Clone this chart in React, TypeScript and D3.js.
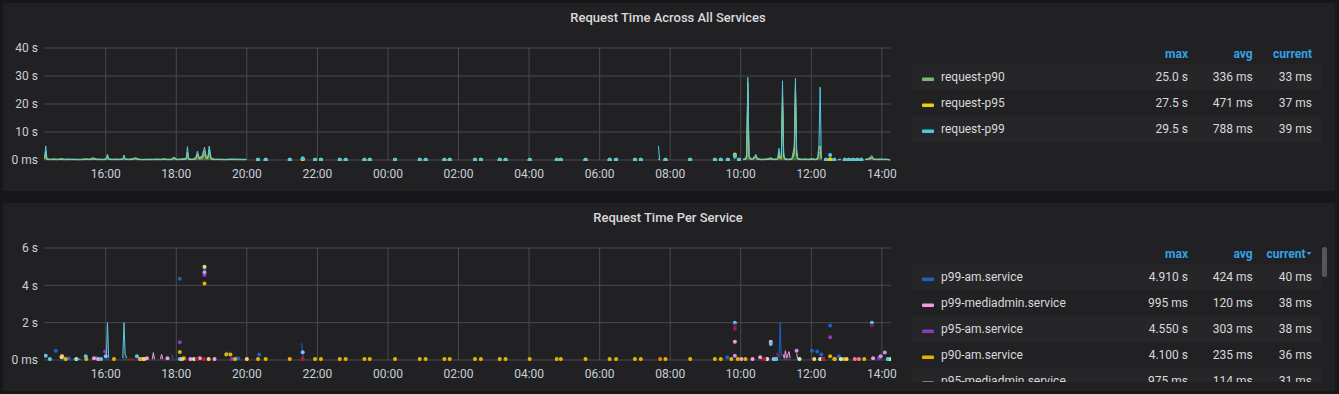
import React from "react";
import * as d3 from "d3";

type Pt = [string, number];
type P = { t: Date; v: number };

const W = 1339;
const H = 394;

// time axis (24h window, 14:15 -> 14:15 next day)
const xTickLabels = ["16:00", "18:00", "20:00", "22:00", "00:00", "02:00", "04:00", "06:00", "08:00", "10:00", "12:00", "14:00"];

// ---------- top panel: Request Time Across All Services ----------
const topTimes = [
  "14:16", "14:18", "14:20", "14:26", "14:32", "14:38", "14:44", "14:50", "14:56", "15:02",
  "15:08", "15:14", "15:20", "15:26", "15:32", "15:38", "15:44", "15:50", "15:56", "16:01",
  "16:03", "16:05", "16:11", "16:17", "16:23", "16:29", "16:31", "16:33", "16:39", "16:45",
  "16:51", "16:57", "17:03", "17:09", "17:15", "17:21", "17:27", "17:33", "17:39", "17:45", "17:51",
  "17:56", "18:01", "18:07", "18:13", "18:17", "18:19", "18:21", "18:27", "18:33", "18:36",
  "18:39", "18:44", "18:48", "18:51", "18:54", "18:56", "18:59", "19:05", "19:11", "19:17",
  "19:23", "19:29", "19:35", "19:41", "19:47", "19:53", "19:59",
  "20:19", "20:32", "21:13", "21:35", "21:56", "22:06", "22:38", "22:48", "23:20", "23:29",
  "00:12", "00:54", "01:04", "01:36", "01:45", "02:28", "02:38", "03:10", "03:20", "04:01",
  "04:47", "04:54", "05:36", "06:17", "06:28", "07:00", "07:10", "07:40", "07:42", "07:52",
  "08:34", "09:16", "09:26", "09:38", "09:50", "09:57",
  "10:04", "10:08", "10:10", "10:12", "10:14", "10:16", "10:20", "10:24", "10:26", "10:28",
  "10:34", "10:40", "10:46", "10:51", "10:56", "11:01", "11:03", "11:05", "11:07", "11:09",
  "11:11", "11:13", "11:15", "11:21", "11:27", "11:31", "11:33", "11:35", "11:37", "11:43",
  "11:49", "11:55", "12:01", "12:07", "12:11", "12:13", "12:15", "12:17",
  "12:25", "12:32", "12:39", "12:46", "12:50", "12:57", "13:04", "13:11", "13:18", "13:25",
  "13:32", "13:37", "13:43", "13:46", "13:51", "13:57", "14:03", "14:09", "14:14",
];
const p90Values = [
  0.3, 2.0, 0.2, 0.1, 0.15, 0.1, 0.2, 0.1, 0.1, 0.15,
  0.1, 0.1, 0.1, 0.2, 0.1, 0.3, 0.15, 0.1, 0.1, 0.2,
  1.0, 0.2, 0.1, 0.15, 0.1, 0.2, 0.6, 0.2, 0.1, 0.2,
  0.4, 0.1, 0.1, 0.1, 0.1, 0.1, 0.15, 0.1, 0.2, 0.1, 0.1,
  0.5, 0.1, 0.15, 0.2, 0.3, 1.5, 0.2, 0.1, 0.3, 1.5,
  0.3, 0.5, 2.0, 0.4, 0.6, 2.5, 0.3, 0.1, 0.15, 0.1,
  0.1, 0.1, 0.15, 0.1, 0.1, 0.1, 0.1,
  0.05, 0.05, 0.05, 0.2, 0.05, 0.05, 0.05, 0.05, 0.05, 0.05,
  0.05, 0.05, 0.05, 0.05, 0.05, 0.05, 0.05, 0.05, 0.05, 0.05,
  0.05, 0.05, 0.05, 0.05, 0.05, 0.05, 0.05, 0.2, 0.05, 0.05,
  0.05, 0.05, 0.05, 0.05, 1.2, 0.05,
  0.1, 0.2, 0.5, 24.5, 1.0, 0.3, 0.2, 0.8, 1.0, 0.3,
  0.1, 0.1, 0.2, 0.3, 0.1, 0.2, 0.3, 1.5, 0.4, 0.5,
  21.0, 1.0, 0.2, 0.1, 0.2, 2.0, 25.0, 1.5, 0.3, 0.1,
  0.15, 0.1, 0.2, 0.1, 0.3, 2.5, 3.0, 0.3,
  0.05, 0.2, 0.05, 0.1, 0.1, 0.05, 0.05, 0.05, 0.05, 0.05,
  0.1, 0.2, 0.6, 0.2, 0.1, 0.15, 0.1, 0.15, 0.033,
];
const p95Values = [
  0.5, 3.2, 0.3, 0.2, 0.25, 0.2, 0.3, 0.2, 0.2, 0.2,
  0.2, 0.15, 0.2, 0.3, 0.2, 0.5, 0.25, 0.2, 0.2, 0.3,
  1.5, 0.3, 0.2, 0.25, 0.2, 0.3, 0.9, 0.3, 0.2, 0.3,
  0.6, 0.2, 0.15, 0.2, 0.2, 0.2, 0.25, 0.2, 0.3, 0.2, 0.2,
  0.7, 0.2, 0.25, 0.3, 0.5, 2.8, 0.3, 0.2, 0.5, 2.2,
  0.5, 1.0, 3.3, 0.6, 1.0, 4.0, 0.5, 0.2, 0.2, 0.2,
  0.15, 0.2, 0.25, 0.2, 0.2, 0.15, 0.2,
  0.08, 0.08, 0.08, 0.3, 0.08, 0.08, 0.08, 0.08, 0.08, 0.08,
  0.08, 0.08, 0.08, 0.08, 0.08, 0.08, 0.08, 0.08, 0.08, 0.08,
  0.08, 0.08, 0.08, 0.08, 0.08, 0.08, 0.08, 0.3, 0.08, 0.08,
  0.08, 0.08, 0.08, 0.08, 2.0, 0.08,
  0.2, 0.3, 1.0, 27.5, 1.5, 0.5, 0.3, 1.2, 1.5, 0.4,
  0.2, 0.2, 0.3, 0.5, 0.2, 0.3, 0.5, 2.5, 0.7, 0.8,
  24.0, 1.5, 0.3, 0.2, 0.3, 3.0, 26.8, 2.5, 0.4, 0.2,
  0.25, 0.2, 0.3, 0.2, 0.5, 4.0, 5.0, 0.5,
  0.08, 0.3, 0.08, 0.15, 0.2, 0.08, 0.08, 0.08, 0.08, 0.08,
  0.2, 0.3, 1.0, 0.3, 0.2, 0.25, 0.2, 0.2, 0.037,
];
const p99Values = [
  0.8, 5.0, 0.4, 0.3, 0.4, 0.3, 0.5, 0.3, 0.35, 0.3,
  0.3, 0.25, 0.3, 0.45, 0.3, 0.8, 0.4, 0.3, 0.3, 0.4,
  2.1, 0.4, 0.3, 0.35, 0.3, 0.4, 1.8, 0.4, 0.3, 0.5,
  0.8, 0.3, 0.25, 0.3, 0.3, 0.3, 0.35, 0.3, 0.45, 0.3, 0.3,
  1.0, 0.3, 0.35, 0.5, 0.7, 4.8, 0.5, 0.3, 0.8, 3.2,
  0.8, 1.5, 4.6, 0.9, 1.5, 5.0, 0.8, 0.3, 0.3, 0.3,
  0.25, 0.3, 0.35, 0.3, 0.3, 0.25, 0.3,
  0.1, 0.1, 0.1, 0.6, 0.1, 0.1, 0.1, 0.1, 0.1, 0.1,
  0.1, 0.1, 0.1, 0.1, 0.1, 0.1, 0.1, 0.1, 0.1, 0.1,
  0.1, 0.1, 0.1, 0.1, 0.1, 0.1, 0.1, 5.0, 0.1, 0.1,
  0.1, 0.1, 0.1, 0.1, 1.5, 0.1,
  0.3, 0.5, 2.0, 29.5, 2.0, 0.6, 0.4, 1.6, 2.0, 0.6,
  0.3, 0.3, 0.5, 0.8, 0.3, 0.4, 0.8, 4.2, 1.0, 1.2,
  28.3, 2.5, 0.5, 0.3, 0.5, 5.0, 29.2, 4.0, 0.6, 0.3,
  0.4, 0.3, 0.5, 0.3, 0.8, 5.5, 26.0, 0.8,
  0.1, 1.8, 0.1, 0.2, 0.3, 0.1, 0.1, 0.1, 0.1, 0.1,
  0.3, 0.5, 1.6, 0.4, 0.3, 0.35, 0.3, 0.3, 0.039,
];
const topNames = ["request-p90", "request-p95", "request-p99"];
const topMax = ["25.0 s", "27.5 s", "29.5 s"];
const topAvg = ["336 ms", "471 ms", "788 ms"];
const topCurrent = ["33 ms", "37 ms", "39 ms"];
const topYTicks = [0, 10, 20, 30, 40];
const topYLabels = ["0 ms", "10 s", "20 s", "30 s", "40 s"];

// ---------- bottom panel: Request Time Per Service ----------
const p99Am: Pt[] = [
  ["14:35", 0.5], ["14:50", 0.05], ["14:57", 0.1], ["15:44", 0.1], ["17:52", 0.3], ["17:55", 0.05],
  ["18:06", 4.35], ["18:48", 4.91], ["19:26", 0.35], ["19:45", 0.1], ["20:21", 0.3], ["21:33", 0.9],
  ["21:36", 0.05], ["09:37", 0.15], ["11:05", 0.1], ["11:07", 2.0], ["11:09", 0.2], ["12:01", 0.5],
  ["12:10", 0.45], ["12:17", 0.3], ["12:32", 1.85], ["12:47", 0.2], ["13:55", 0.1], ["14:14", 0.04],
];
const p99Mediadmin: Pt[] = [
  ["14:46", 0.2], ["15:40", 0.1], ["15:47", 0.05], ["16:58", 0.05], ["17:10", 0.1], ["17:19", 0.05],
  ["17:21", 0.4], ["17:23", 0.05], ["17:33", 0.05], ["17:35", 0.3], ["17:37", 0.05], ["17:45", 0.1],
  ["18:24", 0.05], ["18:40", 0.1], ["19:05", 0.05], ["09:50", 0.98], ["10:01", 0.05], ["10:20", 0.05],
  ["10:33", 0.15], ["10:51", 0.98], ["11:12", 0.3], ["11:14", 0.1], ["11:16", 0.5], ["11:18", 0.1],
  ["11:22", 0.45], ["11:24", 0.1], ["11:35", 0.35], ["11:37", 0.05], ["12:40", 0.05], ["13:45", 0.1],
  ["14:14", 0.038],
];
const p95Am: Pt[] = [
  ["15:59", 0.45], ["18:06", 0.95], ["18:48", 4.55], ["19:35", 0.05], ["12:32", 1.22], ["13:56", 0.15], ["14:14", 0.038],
];
const p90Am: Pt[] = [
  ["14:45", 0.2], ["14:52", 0.05], ["15:27", 0.05], ["16:14", 0.05], ["17:00", 0.05], ["18:06", 0.43],
  ["18:13", 0.1], ["18:48", 4.1], ["19:25", 0.3], ["19:32", 0.3], ["19:40", 0.05], ["20:19", 0.05],
  ["20:32", 0.05], ["21:13", 0.05], ["21:56", 0.05], ["22:06", 0.05], ["22:38", 0.05], ["22:48", 0.05],
  ["23:20", 0.05], ["23:29", 0.05], ["00:12", 0.05], ["00:54", 0.05], ["01:04", 0.05], ["01:36", 0.05],
  ["01:45", 0.05], ["02:28", 0.05], ["02:38", 0.05], ["03:10", 0.05], ["03:20", 0.05], ["04:01", 0.05],
  ["04:47", 0.05], ["04:54", 0.05], ["05:36", 0.05], ["06:17", 0.05], ["06:28", 0.05], ["07:00", 0.05],
  ["07:10", 0.05], ["07:52", 0.05], ["08:34", 0.05], ["09:16", 0.05], ["09:26", 0.05], ["09:44", 0.05],
  ["09:55", 0.05], ["10:08", 0.05], ["11:00", 0.05], ["12:32", 0.2], ["12:39", 0.05], ["12:55", 0.05],
  ["13:30", 0.05], ["14:14", 0.036],
];
const p95Mediadmin: Pt[] = [
  ["15:10", 0.05], ["17:05", 0.05], ["18:30", 0.05], ["10:45", 0.05], ["11:40", 0.05], ["12:15", 0.05],
  ["12:50", 0.05], ["14:14", 0.031],
];
// series further down the (scrolled) legend
const p90Mediadmin: Pt[] = [
  ["14:18", 0.23], ["14:25", 0.05], ["15:05", 0.05], ["15:09", 0.05], ["15:13", 0.05], ["15:17", 0.05],
  ["15:26", 0.2], ["15:52", 0.05], ["16:01", 0.1], ["16:03", 2.0], ["16:05", 0.1], ["16:29", 0.1],
  ["16:31", 2.0], ["16:33", 0.3], ["16:36", 0.1], ["16:53", 0.2], ["18:06", 0.05], ["09:50", 2.0],
  ["10:51", 0.86], ["11:00", 0.05], ["12:20", 0.05], ["13:43", 2.0], ["14:10", 0.05],
];
const p99Auth: Pt[] = [["09:50", 1.85], ["11:03", 0.3], ["13:43", 1.85]];
const p95Auth: Pt[] = [["09:50", 1.67], ["10:40", 0.05]];
const p90Auth: Pt[] = [
  ["16:37", 0.05], ["16:41", 0.05], ["16:45", 0.05], ["16:49", 0.05], ["18:35", 0.05], ["18:47", 0.05],
  ["21:35", 0.05], ["10:40", 0.05], ["12:20", 0.05],
];
const p99Ui: Pt[] = [
  ["14:45", 0.15], ["17:05", 0.05], ["18:10", 0.05], ["18:48", 5.0], ["18:55", 0.05], ["20:00", 0.05],
  ["12:05", 0.05], ["13:00", 0.05],
];
const p95Ui: Pt[] = [["18:48", 4.7], ["09:50", 0.23], ["11:35", 0.5], ["13:58", 0.2], ["14:05", 0.4]];
const p90Ui: Pt[] = [["16:00", 0.2], ["21:35", 0.41], ["10:56", 0.05]];
const p99Api: Pt[] = [["13:14", 0.05], ["13:21", 0.05]];
const p95Api: Pt[] = [["07:43", 0.05]];

const bottomSeries = [p99Am, p99Mediadmin, p95Am, p90Am, p95Mediadmin, p90Mediadmin, p99Auth, p95Auth, p90Auth, p99Ui, p95Ui, p90Ui, p99Api, p95Api];
const bottomNames = ["p99-am.service", "p99-mediadmin.service", "p95-am.service", "p90-am.service", "p95-mediadmin.service"];
const bottomMax = ["4.910 s", "995 ms", "4.550 s", "4.100 s", "975 ms"];
const bottomAvg = ["424 ms", "120 ms", "303 ms", "235 ms", "114 ms"];
const bottomCurrent = ["40 ms", "38 ms", "38 ms", "36 ms", "31 ms"];
const bottomYTicks = [0, 2, 4, 6];
const bottomYLabels = ["0 ms", "2 s", "4 s", "6 s"];

// colours
const topColors = ["#73BF69", "#F2CC0C", "#4FC8E5"];
const bottomColors = ["#1F60C4", "#F59ADF", "#8F3BB8", "#E0B400", "#C8F2C2", "#5AC8E0", "#6D1F62", "#8E2157", "#C4162A", "#FFCB7D", "#CA95E5", "#8AB8FF", "#FF7383", "#FF780A"];

const FONT = "Roboto, 'Helvetica Neue', Arial, sans-serif";
const GAP_MS = 6.5 * 60 * 1000;

function toDate(s: string) {
  const [h, m] = s.split(":").map(Number);
  const day = h * 60 + m < 14 * 60 + 15 ? 2 : 1;
  return new Date(2019, 0, day, h, m);
}

const x = d3
  .scaleTime()
  .domain([new Date(2019, 0, 1, 14, 15), new Date(2019, 0, 2, 14, 15)])
  .range([44, 890.7]);

function runs(pts: P[]) {
  const out: P[][] = [];
  let cur: P[] = [];
  pts.forEach((p, i) => {
    if (i > 0 && +p.t - +pts[i - 1].t > GAP_MS) {
      out.push(cur);
      cur = [];
    }
    cur.push(p);
  });
  if (cur.length) out.push(cur);
  return out;
}

function Series({ pts, color, y, fill }: { pts: P[]; color: string; y: d3.ScaleLinear<number, number>; fill: number }) {
  const line = d3.line<P>().x((d) => x(d.t)).y((d) => y(d.v));
  const area = d3.area<P>().x((d) => x(d.t)).y0(y(0)).y1((d) => y(d.v));
  return (
    <g>
      {runs(pts).map((r, i) =>
        r.length > 1 ? (
          <g key={i}>
            <path d={area(r) || ""} fill={color} fillOpacity={fill} />
            <path d={line(r) || ""} fill="none" stroke={color} strokeWidth={1} />
          </g>
        ) : (
          <circle key={i} cx={x(r[0].t)} cy={y(r[0].v)} r={2} fill={color} />
        )
      )}
    </g>
  );
}

type PanelProps = {
  top: number;
  title: string;
  series: P[][];
  colors: string[];
  yMax: number;
  yTicks: number[];
  yLabels: string[];
  names: string[];
  maxs: string[];
  avgs: string[];
  currents: string[];
  scroll?: boolean;
  id: string;
};

function Panel(p: PanelProps) {
  const y = d3.scaleLinear().domain([0, p.yMax]).range([p.top + 157, p.top + 45]);
  const hdrY = p.top + 50.5;
  const rowTop = p.top + 61;
  return (
    <g>
      <rect x={3} y={p.top} width={1332} height={188} rx={2} fill="#212124" />
      <text x={668} y={p.top + 14.5} dy="0.35em" textAnchor="middle" fill="#D8D9DA" fontWeight={500} fontSize={13}>
        {p.title}
      </text>
      {/* grid */}
      {p.yTicks.map((t, i) => (
        <g key={"y" + i}>
          <line x1={44} x2={890.7} y1={y(t)} y2={y(t)} stroke="#4A4A4E" strokeWidth={1} />
          <text x={38} y={y(t)} dy="0.35em" textAnchor="end" fill="#C7D0D9" fontSize={12}>
            {p.yLabels[i]}
          </text>
        </g>
      ))}
      {xTickLabels.map((l) => {
        const d = toDate(l);
        return (
          <g key={l}>
            <line x1={x(d)} x2={x(d)} y1={p.top + 45} y2={p.top + 157} stroke="#4A4A4E" strokeWidth={1} />
            <text x={x(d)} y={p.top + 170.3} dy="0.35em" textAnchor="middle" fill="#C7D0D9" fontSize={12}>
              {l}
            </text>
          </g>
        );
      })}
      <clipPath id={"plot-" + p.id}>
        <rect x={44} y={p.top + 40} width={847} height={118} />
      </clipPath>
      <g clipPath={`url(#plot-${p.id})`}>
        {p.series.map((s, i) => (
          <Series key={i} pts={s} color={p.colors[i]} y={y} fill={0.15} />
        ))}
      </g>
      {/* legend */}
      <g fontSize={12}>
        <text x={1188} y={hdrY} dy="0.35em" textAnchor="end" fill="#33A2E5" fontWeight="bold">max</text>
        <text x={1252.7} y={hdrY} dy="0.35em" textAnchor="end" fill="#33A2E5" fontWeight="bold">avg</text>
        <text x={p.scroll ? 1305.5 : 1312} y={hdrY} dy="0.35em" textAnchor="end" fill="#33A2E5" fontWeight="bold">current</text>
        {p.scroll && <path d={`M1306.5,${hdrY - 1.5} L1311.5,${hdrY - 1.5} L1309,${hdrY + 1.5} Z`} fill="#33A2E5" />}
        <clipPath id={"leg-" + p.id}>
          <rect x={905} y={p.top + 58} width={425} height={121} />
        </clipPath>
        <g clipPath={`url(#leg-${p.id})`}>
          {p.names.map((n, i) => {
            const t = rowTop + i * 26;
            const c = t + 13;
            return (
              <g key={n}>
                {i % 2 === 0 && <rect x={912} y={t} width={409.7} height={26} fill="#262629" />}
                <rect x={922} y={c + 0.5} width={12} height={3.5} rx={1} fill={p.colors[i]} />
                <text x={941} y={c} dy="0.35em" fill="#D8D9DA">{n}</text>
                <text x={1188} y={c} dy="0.35em" textAnchor="end" fill="#D8D9DA">{p.maxs[i]}</text>
                <text x={1252.7} y={c} dy="0.35em" textAnchor="end" fill="#D8D9DA">{p.avgs[i]}</text>
                <text x={1312} y={c} dy="0.35em" textAnchor="end" fill="#D8D9DA">{p.currents[i]}</text>
              </g>
            );
          })}
        </g>
        {p.scroll && <rect x={1322} y={p.top + 44} width={5} height={30} rx={2.5} fill="#55555A" />}
      </g>
    </g>
  );
}

function toPts(times: string[], values: number[]): P[] {
  return times.map((t, i) => ({ t: toDate(t), v: values[i] }));
}

function pairPts(arr: Pt[]): P[] {
  return arr.map(([t, v]) => ({ t: toDate(t), v })).sort((a, b) => +a.t - +b.t);
}

export default function App() {
  const topSeries = [toPts(topTimes, p90Values), toPts(topTimes, p95Values), toPts(topTimes, p99Values)];
  const botSeries = bottomSeries.map(pairPts);
  return (
    <svg
      width={W}
      height={H}
      style={{ position: "absolute", left: 0, top: 0, display: "block" }}
      fontFamily={FONT}
    >
      <rect width={W} height={H} fill="#161719" />
      <Panel
        id="top"
        top={3}
        title="Request Time Across All Services"
        series={topSeries}
        colors={topColors}
        yMax={40}
        yTicks={topYTicks}
        yLabels={topYLabels}
        names={topNames}
        maxs={topMax}
        avgs={topAvg}
        currents={topCurrent}
      />
      <Panel
        id="bot"
        top={203}
        title="Request Time Per Service"
        series={botSeries}
        colors={bottomColors}
        yMax={6}
        yTicks={bottomYTicks}
        yLabels={bottomYLabels}
        names={bottomNames}
        maxs={bottomMax}
        avgs={bottomAvg}
        currents={bottomCurrent}
        scroll
      />
    </svg>
  );
}
